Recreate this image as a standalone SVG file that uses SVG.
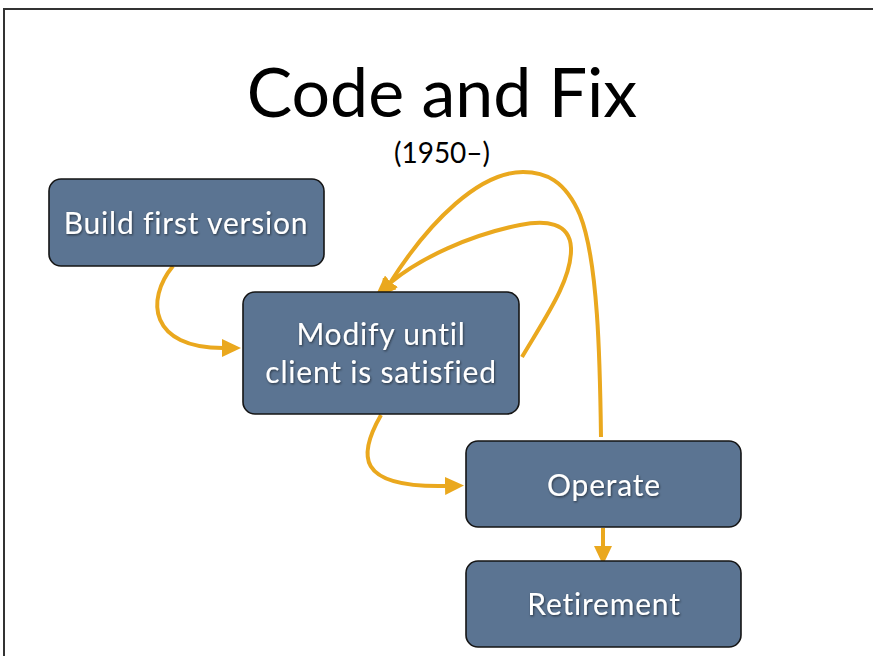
<svg xmlns="http://www.w3.org/2000/svg" width="873" height="656" viewBox="0 0 873 656">
<style>
.node rect{fill:#5b7492;stroke:#151515;stroke-width:1.6}
.lbl{font-family:Lato,"Open Sans","Liberation Sans",sans-serif;font-size:30px;letter-spacing:0.8px;fill:#ffffff;text-anchor:middle;filter:url(#sh)}
.title{font-family:Lato,"Open Sans","Liberation Sans",sans-serif;fill:#000;text-anchor:middle}
.conn path{fill:none;stroke:#eaa81e;stroke-width:4}
</style>
<defs>
<filter id="sh" x="-10%" y="-20%" width="120%" height="140%">
<feDropShadow dx="0.8" dy="1.2" stdDeviation="1" flood-color="#000" flood-opacity="0.55"/>
</filter>
<marker id="ah" markerUnits="userSpaceOnUse" markerWidth="20" markerHeight="18" viewBox="0 0 20 18" refX="1" refY="9" orient="auto">
<path d="M0,0 L19,9 L0,18 Z" fill="#eaa81e"/>
</marker>
</defs>
<rect x="0" y="0" width="873" height="656" fill="#fff"/>
<path d="M4,656 V9 H873" fill="none" stroke="#333" stroke-width="2"/>
<text class="title" x="442" y="117" font-size="68">Code and Fix</text>
<text class="title" x="442" y="163" font-size="28">(1950–)</text>
<g class="conn" id="connectors">
<path d="M173,266 C145,300 150,348 223,348" marker-end="url(#ah)"/>
<path d="M381,415 C358,455 355,488 446,486" marker-end="url(#ah)"/>
<path d="M603,528 L603,547" marker-end="url(#ah)"/>
<path d="M522,357 C545,318 572,280 571,248 C570,222 545,220 520,225 C470,235 420,258 390,283" marker-end="url(#ah)"/>
<path d="M601,437 C600,360 598,260 580,215 C565,180 545,172 523,172 C480,172 430,220 390,283" marker-end="url(#ah)"/>
</g>
<g class="node" id="build">
<rect x="49" y="179" width="275" height="87" rx="12"/>
<text class="lbl" x="186" y="234">Build first version</text>
</g>
<g class="node" id="modify">
<rect x="243" y="292" width="276" height="122" rx="12"/>
<text class="lbl" x="381" y="345">Modify until</text>
<text class="lbl" x="381" y="383">client is satisfied</text>
</g>
<g class="node" id="operate">
<rect x="466" y="441" width="275" height="86" rx="12"/>
<text class="lbl" x="604" y="496">Operate</text>
</g>
<g class="node" id="retirement">
<rect x="466" y="561" width="275" height="86" rx="12"/>
<text class="lbl" x="604" y="615">Retirement</text>
</g>
</svg>
